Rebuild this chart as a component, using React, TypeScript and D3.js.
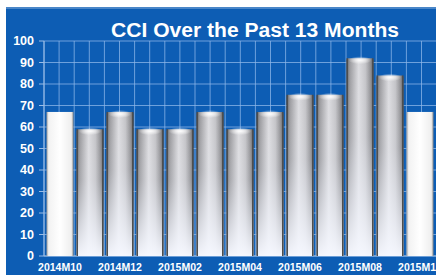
// @ts-nocheck
import React from "react";
import { scaleBand, scaleLinear, range } from "d3";

const categories = [
  "2014M10", "2014M11", "2014M12", "2015M01", "2015M02", "2015M03", "2015M04",
  "2015M05", "2015M06", "2015M07", "2015M08", "2015M09", "2015M10",
];
const values = [67, 59, 67, 59, 59, 67, 59, 67, 75, 75, 92, 84, 67];
const highlighted = [true, false, false, false, false, false, false, false, false, false, false, false, true];
const yTicks = [0, 10, 20, 30, 40, 50, 60, 70, 80, 90, 100];
const title = "CCI Over the Past 13 Months";

const W = 436;
const H = 275;
const plot = { left: 44, right: 436, top: 41, bottom: 256 };
const font = "'Liberation Sans', Arial, sans-serif";

export default function App() {
  const x = scaleBand()
    .domain(categories)
    .range([plot.left + 1, plot.left + 1 + 30 * categories.length])
    .paddingInner(0.1)
    .paddingOuter(0.05);
  const y = scaleLinear().domain([0, 100]).range([plot.bottom, plot.top]);
  const bw = x.bandwidth();
  const vLines = range(plot.left, plot.right + 1, 15.1);

  return (
    <svg width={W} height={H} style={{ position: "absolute", left: 0, top: 0, display: "block" }}>
      <defs>
        <linearGradient id="barH" x1="0" x2="1" y1="0" y2="0">
          <stop offset="0" stopColor="#5e5e5e" />
          <stop offset="0.12" stopColor="#9a9a9e" />
          <stop offset="0.45" stopColor="#dcdce0" />
          <stop offset="0.7" stopColor="#c4c4c8" />
          <stop offset="0.9" stopColor="#8c8c90" />
          <stop offset="1" stopColor="#555" />
        </linearGradient>
        <linearGradient id="barV" x1="0" x2="0" y1="0" y2="1">
          <stop offset="0" stopColor="#ffffff" stopOpacity="0" />
          <stop offset="0.4" stopColor="#eef2fb" stopOpacity="0.15" />
          <stop offset="1" stopColor="#f6f8ff" stopOpacity="0.97" />
        </linearGradient>
        <linearGradient id="barW" x1="0" x2="1" y1="0" y2="0">
          <stop offset="0" stopColor="#9a9a9a" />
          <stop offset="0.08" stopColor="#f2f2f2" />
          <stop offset="0.5" stopColor="#ffffff" />
          <stop offset="0.92" stopColor="#eeeeee" />
          <stop offset="1" stopColor="#8a8a8a" />
        </linearGradient>
        <radialGradient id="cap" cx="0.5" cy="0.5" r="0.5">
          <stop offset="0" stopColor="#ffffff" stopOpacity="0.95" />
          <stop offset="1" stopColor="#ffffff" stopOpacity="0" />
        </radialGradient>
      </defs>

      <rect x={0} y={0} width={W} height={H} fill="#ffffff" />
      <rect x={6} y={7} width={W - 6} height={H - 7} fill="#0d5db4" />
      <rect x={6} y={7} width={W - 6} height={2} fill="#4a86c8" />

      {/* grid */}
      {yTicks.map((t) => (
        <line key={"h" + t} x1={plot.left} x2={plot.right} y1={y(t)} y2={y(t)} stroke="#8fb8ea" strokeWidth={1} opacity={0.75} />
      ))}
      {vLines.map((v, i) => (
        <line key={"v" + i} x1={v} x2={v} y1={plot.top} y2={plot.bottom} stroke="#8fb8ea" strokeWidth={1} opacity={0.75} />
      ))}

      {/* axis */}
      <line x1={plot.left} x2={plot.left} y1={plot.top} y2={plot.bottom} stroke="#9bbde6" />
      <line x1={plot.left} x2={plot.right} y1={plot.bottom} y2={plot.bottom} stroke="#9bbde6" />
      {yTicks.map((t) => (
        <line key={"t" + t} x1={plot.left - 5} x2={plot.left} y1={y(t)} y2={y(t)} stroke="#9bbde6" />
      ))}

      {/* bars */}
      {categories.map((c, i) => {
        const bx = x(c);
        const top = y(values[i]);
        const h = plot.bottom - top;
        if (highlighted[i]) {
          return (
            <g key={c}>
              <rect x={bx} y={top} width={bw} height={h} fill="url(#barW)" />
            </g>
          );
        }
        return (
          <g key={c}>
            <rect x={bx} y={top} width={bw} height={h} rx={2} fill="url(#barH)" />
            <rect x={bx} y={top} width={bw} height={h} fill="url(#barV)" />
            <ellipse cx={bx + bw / 2} cy={top + 2} rx={bw / 2 - 2} ry={4} fill="url(#cap)" />
            <rect x={bx} y={top} width={1.5} height={h} fill="#4e4e4e" />
            <rect x={bx + bw - 1.5} y={top} width={1.5} height={h} fill="#4e4e4e" />
          </g>
        );
      })}

      {/* y labels */}
      {yTicks.map((t) => (
        <text key={"l" + t} x={34} y={y(t)} dy="0.35em" textAnchor="end" fill="#ffffff" fontFamily={font} fontWeight="bold" fontSize={12.5}>
          {t}
        </text>
      ))}

      {/* x labels */}
      {categories.map((c, i) =>
        i % 2 === 0 ? (
          <text key={"x" + c} x={x(c) + bw / 2} y={271} textAnchor="middle" fill="#ffffff" fontFamily={font} fontWeight="bold" fontSize={10.5}>
            {c}
          </text>
        ) : null
      )}

      <text x={255} y={37} textAnchor="middle" fill="#ffffff" fontFamily={font} fontWeight="bold" fontSize={19.5} textLength={288} lengthAdjust="spacingAndGlyphs">
        {title}
      </text>
    </svg>
  );
}
